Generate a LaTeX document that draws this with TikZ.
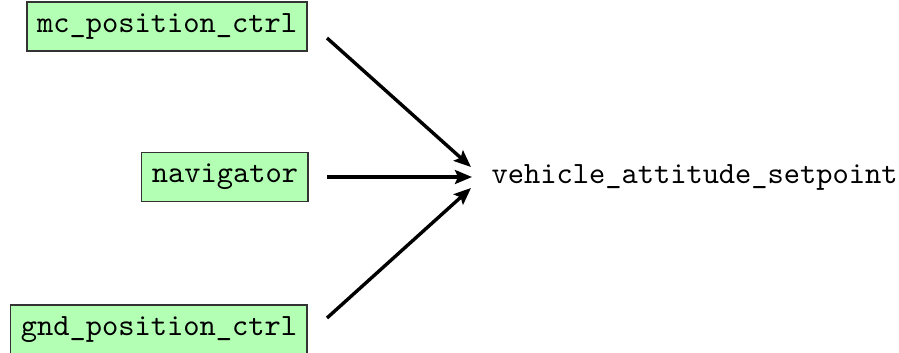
\documentclass[tikz,border=0pt]{standalone}
\usetikzlibrary{arrows.meta,calc}
\definecolor{boxgreen}{RGB}{179,255,179}
\begin{document}
\begin{tikzpicture}[x=0.3231pt,y=-0.3231pt,
  srcbox/.style={draw=black!80,fill=boxgreen,font=\ttfamily,inner xsep=3.3pt,inner ysep=3.8pt,line width=0.5pt,anchor=east},
  tgt/.style={font=\ttfamily,inner sep=3.2pt,anchor=west},
  conn/.style={line width=1.1pt,-{Stealth[length=5.5pt,width=4.5pt,inset=1pt]}}]
\useasboundingbox (0,0) rectangle (899,352);
\node[srcbox] (mc) at (308,26.5) {mc\_position\_ctrl};
\node[srcbox] (nav) at (309,177) {navigator};
\node[srcbox] (gnd) at (308,330) {gnd\_position\_ctrl};
\node[tgt] (vas) at (481,177) {vehicle\_attitude\_setpoint};
\coordinate (s1) at (327,38);
\coordinate (s2) at (327,177);
\coordinate (s3) at (327,318);
\coordinate (e1) at (471,167);
\coordinate (e2) at (472,177);
\coordinate (e3) at (471,188);
\draw[conn] (s1) -- (e1);
\draw[conn] (s2) -- (e2);
\draw[conn] (s3) -- (e3);
\end{tikzpicture}
\end{document}
